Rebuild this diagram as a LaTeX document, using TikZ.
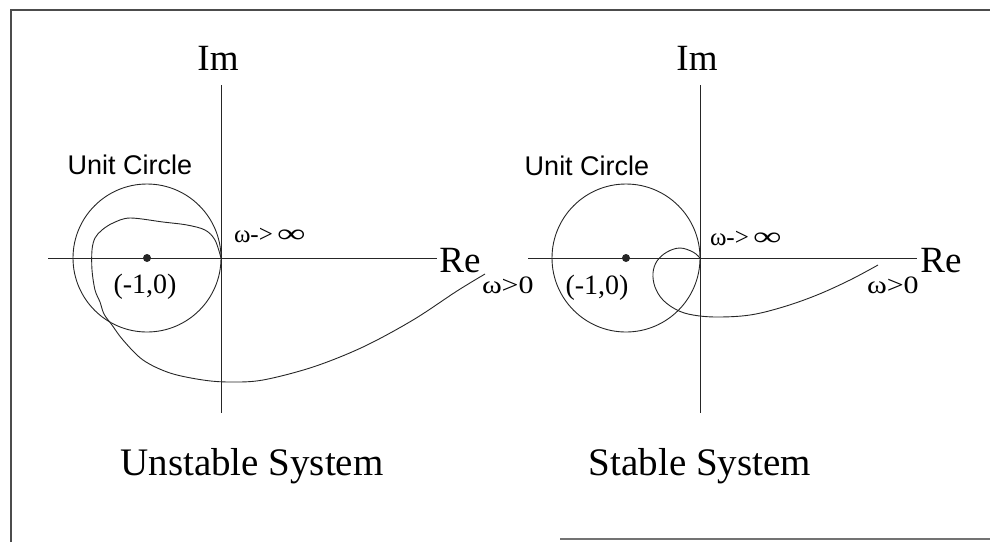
\documentclass[tikz,border=0pt]{standalone}
\usepackage{fontspec}
\setmainfont{Liberation Serif}
\newfontfamily\sansf{Liberation Sans}
\newcommand{\wsym}{ω}
\newcommand{\infsym}{\scalebox{1.6}[1.05]{∞}}
\begin{document}
\begin{tikzpicture}[x=1pt,y=-1pt,
  axisline/.style={draw=black!85,line width=0.9pt},
  nyq/.style={draw=black!85,line width=0.9pt},
  unitc/.style={draw=black!85,line width=0.9pt},
  framel/.style={draw=black!70,line width=1.8pt},
  lbl/.style={inner sep=0pt,outer sep=0pt},
  axlbl/.style={lbl,font=\fontsize{37}{40}\selectfont},
  uclbl/.style={lbl,font=\sansf\fontsize{27}{30}\selectfont},
  ptlbl/.style={lbl,font=\fontsize{28}{32}\selectfont},
  wlbl/.style={lbl,font=\fontsize{25}{28}\selectfont,anchor=base west},
  titlbl/.style={lbl,font=\fontsize{39}{44}\selectfont,anchor=base}]
\useasboundingbox (0,0) rectangle (990,542);
% frame
\coordinate (f1) at (11,542);
\coordinate (f2) at (11,10);
\coordinate (f3) at (995,10);
\coordinate (f4) at (560,539);
\coordinate (f5) at (995,539);
\draw[framel] (f1) -- (f2) -- (f3);
\draw[framel,draw=black!55] (f4) -- (f5);

% ---------------- left: unstable ----------------
\coordinate (Lo) at (221,258);
\coordinate (Ltop) at (221,85);
\coordinate (Lbot) at (221,413);
\coordinate (Lleft) at (48,258);
\coordinate (Lright) at (437,258);
\coordinate (Lc) at (147,258);
\draw[axisline] (Ltop) -- (Lbot);
\draw[axisline] (Lleft) -- (Lright);
\draw[unitc] (Lc) circle[radius=74];
\fill[black!85] (Lc) circle[radius=4];
\draw[nyq] plot[smooth,tension=0.55] coordinates {
 (221,258) (215,240) (205,230) (187,225) (163,222) (130,218) (113,223)
 (102,230) (95,238) (92,250) (92,270) (95,290) (100,302) (104,314)
 (112,325) (123,340) (143,360) (170,373) (203,380) (230,382) (263,380)
 (313,367) (363,347) (413,320) (457,291) (485,274)};
\node[axlbl] (Lim) at (218,58) {Im};
\node[axlbl] (Lre) at (460,261) {Re};
\node[uclbl] (Luc) at (130,165) {Unit Circle};
\node[ptlbl] (Lpt) at (145,287) {(-1,0)};
\node[wlbl] (Linf) at (234,242) {\wsym->\,\infsym};
\node[wlbl] (Lzero) at (482,293) {\scalebox{1.2}[1]{\wsym>0}};
\node[titlbl] (Ltitle) at (252,475) {Unstable System};

% ---------------- right: stable ----------------
\coordinate (Ro) at (700,258);
\coordinate (Rtop) at (700,85);
\coordinate (Rbot) at (700,413);
\coordinate (Rleft) at (528,258);
\coordinate (Rright) at (917,258);
\coordinate (Rc) at (626,258);
\draw[axisline] (Rtop) -- (Rbot);
\draw[axisline] (Rleft) -- (Rright);
\draw[unitc] (Rc) circle[radius=74];
\fill[black!85] (Rc) circle[radius=4];
\draw[nyq] plot[smooth,tension=0.6] coordinates {
 (700,258) (693,252) (680,248) (667,252) (657,261) (653,273) (655,287)
 (663,300) (677,310) (693,315) (717,317) (750,315) (783,307) (817,295)
 (850,280) (878,265)};
\node[axlbl] (Rim) at (697,58) {Im};
\node[axlbl] (Rre) at (941,261) {Re};
\node[uclbl] (Ruc) at (587,166) {Unit Circle};
\node[ptlbl] (Rpt) at (597,288) {(-1,0)};
\node[wlbl] (Rinf) at (710,245) {\wsym->\,\infsym};
\node[wlbl] (Rzero) at (867,293) {\scalebox{1.2}[1]{\wsym>0}};
\node[titlbl] (Rtitle) at (700,475) {Stable System};
\end{tikzpicture}
\end{document}
